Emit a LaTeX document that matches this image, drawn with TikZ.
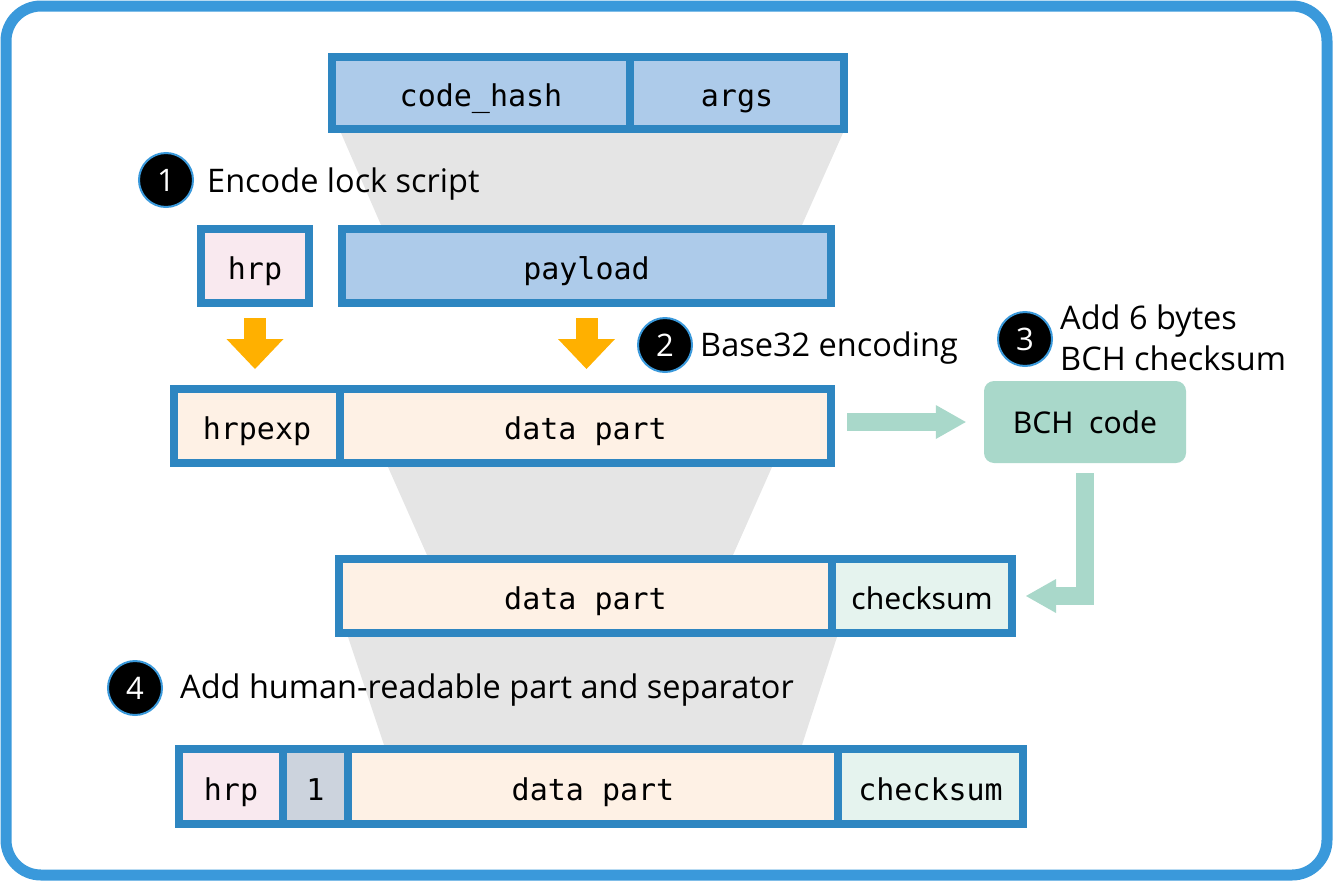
\documentclass[tikz,border=0pt]{standalone}
\usepackage{fontspec}
\usetikzlibrary{arrows.meta}
\newfontfamily\capfont{Open Sans}
\newfontfamily\cellmono{DejaVu Sans Mono}
\newfontfamily\cellsans{Noto Sans}
\definecolor{bordblue}{HTML}{2E86C1}
\definecolor{outerblue}{HTML}{3A99DB}
\definecolor{cellblue}{HTML}{ADCBEA}
\definecolor{hrppink}{HTML}{F9E9EF}
\definecolor{cream}{HTML}{FEF1E5}
\definecolor{mint}{HTML}{E5F3EE}
\definecolor{sepgray}{HTML}{CCD3DD}
\definecolor{bchgreen}{HTML}{A9D8CA}
\definecolor{orangeA}{HTML}{FFB000}
\definecolor{funnel}{HTML}{E5E5E5}
\begin{document}
\begin{tikzpicture}[x=1pt,y=1pt,
  cellbase/.style={draw=bordblue, line width=8pt, rectangle, inner sep=0pt,
    font=\cellmono\fontsize{30}{30}\selectfont, text height=29pt, text depth=2pt},
  capt/.style={anchor=base west, inner sep=0pt, font=\capfont\fontsize{32.5}{38}\selectfont},
  numc/.style={circle, fill=black, draw=outerblue, line width=2pt, minimum size=54pt,
    inner sep=0pt, text=white, font=\capfont\fontsize{31}{31}\selectfont},
  garrow/.style={draw=bchgreen, line width=18pt,
    -{Triangle[length=30pt,width=34pt,line width=0pt]}},
  oarrow/.style={draw=orangeA, line width=22pt,
    -{Triangle[length=30pt,width=57pt,line width=0pt]}, shorten <=11pt, shorten >=16pt}
]
\useasboundingbox (0,0) rectangle (1333,-881);
% outer frame
\draw[outerblue, line width=11pt, rounded corners=35pt] (6,-6) rectangle (1327,-875);
% funnels
\fill[funnel] (341,-133) -- (843,-133) -- (802,-225) -- (381,-225) -- cycle;
\fill[funnel] (388,-467) -- (772,-467) -- (733,-555) -- (427,-555) -- cycle;
\fill[funnel] (348,-637) -- (837,-637) -- (802,-745) -- (384,-745) -- cycle;
% row A
\node[cellbase, fill=cellblue, minimum width=298pt, minimum height=72pt] (codehash) at (481,-93) {code\_hash};
\node[cellbase, fill=cellblue, minimum width=214pt, minimum height=72pt] (args) at (737,-93) {args};
% row B
\node[cellbase, fill=hrppink, minimum width=108pt, minimum height=74pt] (hrp) at (255,-266) {hrp};
\node[cellbase, fill=cellblue, minimum width=489pt, minimum height=74pt] (payload) at (586.5,-266) {payload};
% row C
\node[cellbase, fill=cream, minimum width=166pt, minimum height=74pt] (hrpexp) at (257,-426) {hrpexp};
\node[cellbase, fill=cream, minimum width=491pt, minimum height=74pt] (dpa) at (585.5,-426) {data part};
% row D
\node[cellbase, fill=cream, minimum width=493pt, minimum height=74pt] (dpb) at (585.5,-596) {data part};
\node[cellbase, fill=mint, minimum width=180pt, minimum height=74pt,
  font=\cellsans\fontsize{30}{30}\selectfont] (csa) at (922,-596) {checksum};
% row E
\node[cellbase, fill=hrppink, minimum width=104pt, minimum height=75pt] (hrpb) at (231,-786.5) {hrp};
\node[cellbase, fill=sepgray, minimum width=65pt, minimum height=75pt] (sep) at (315.5,-786.5) {1};
\node[cellbase, fill=cream, minimum width=490pt, minimum height=75pt] (dpc) at (593,-786.5) {data part};
\node[cellbase, fill=mint, minimum width=185pt, minimum height=75pt] (csb) at (930.5,-786.5) {checksum};
% BCH box
\node[fill=bchgreen, rounded corners=10pt, minimum width=202pt, minimum height=82pt, inner sep=0pt,
  font=\cellsans\fontsize{30}{30}\selectfont] (bch) at (1085,-422) {BCH\ \ code};
% captions
\node[numc] (n1) at (166,-180) {1};
\node[capt] (c1) at (207,-192) {Encode lock script};
\node[numc] (n2) at (665,-345) {2};
\node[capt] (c2) at (700,-356) {Base32 encoding};
\node[numc] (n3) at (1025,-339) {3};
\node[capt] (c3a) at (1060,-329) {Add 6 bytes};
\node[capt] (c3b) at (1060,-370) {BCH checksum};
\node[numc] (n4) at (135,-688) {4};
\node[capt] (c4) at (180,-698) {Add human-readable part and separator};
% arrows
\draw[oarrow] (hrp.south) -- (hrp.south |- hrpexp.north);
\draw[oarrow] (payload.south) -- (payload.south |- dpa.north);
\draw[garrow, shorten <=12pt, shorten >=18pt] (dpa.east |- bch.west) -- (bch.west);
\draw[garrow, line join=miter, shorten <=10pt, shorten >=10pt] (bch.south) |- (csa.east);
\end{tikzpicture}
\end{document}
